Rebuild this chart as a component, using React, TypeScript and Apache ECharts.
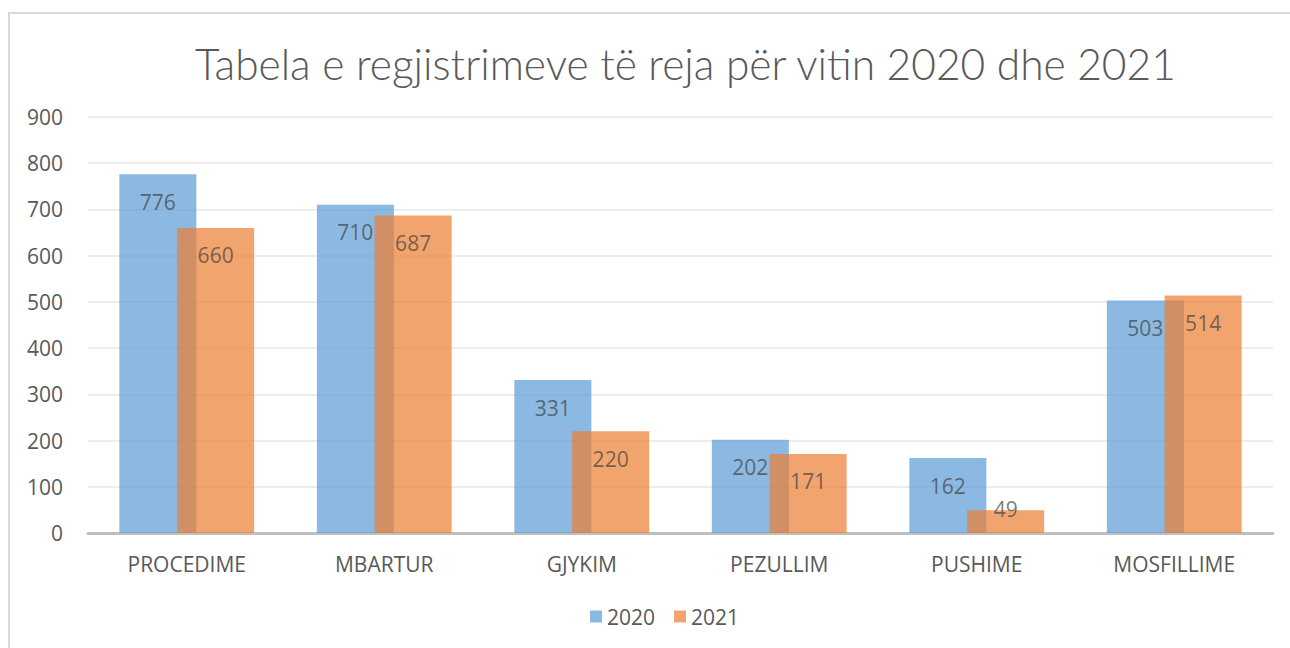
import React, { useEffect, useRef } from "react";
import * as echarts from "echarts";

const categories = ["PROCEDIME", "MBARTUR", "GJYKIM", "PEZULLIM", "PUSHIME", "MOSFILLIME"];
const values2020 = [776, 710, 331, 202, 162, 503];
const values2021 = [660, 687, 220, 171, 49, 514];
const seriesNames = ["2020", "2021"];
const titleText = "Tabela e regjistrimeve të reja për vitin 2020 dhe 2021";

const FONT = "'Open Sans', 'Noto Sans', sans-serif";
const TITLE_FONT = "Lato, 'Open Sans', sans-serif";

export default function App() {
  const ref = useRef<HTMLDivElement>(null);
  useEffect(() => {
    const chart = echarts.init(ref.current!, null, { renderer: "svg" });
    const label = {
      show: true,
      position: "insideTop" as const,
      distance: 17,
      color: "#404040",
      fontSize: 21,
      fontFamily: FONT,
    };
    const data21 = values2021.map((v) =>
      v < 80 ? { value: v, label: { position: "top", distance: -9 } } : v
    );
    chart.setOption({
      animation: false,
      backgroundColor: "#ffffff",
      title: {
        text: titleText,
        left: 190,
        top: 37,
        textStyle: { fontFamily: TITLE_FONT, fontWeight: 300, fontSize: 42.5, color: "#595959" },
      },
      legend: {
        bottom: 16,
        left: 585,
        itemWidth: 12,
        itemHeight: 12,
        itemGap: 19,
        itemStyle: { opacity: 0.7 },
        icon: "rect",
        textStyle: { fontFamily: FONT, fontSize: 21, color: "#595959" },
        data: seriesNames,
      },
      grid: { left: 88, right: 17, top: 117, bottom: 115 },
      xAxis: {
        type: "category",
        data: categories,
        axisLine: { lineStyle: { color: "#BFBFBF", width: 3 } },
        axisTick: { show: false },
        axisLabel: { color: "#595959", fontSize: 21, fontFamily: FONT, margin: 20 },
      },
      yAxis: {
        type: "value",
        min: 0,
        max: 900,
        interval: 100,
        axisLine: { show: false },
        axisTick: { show: false },
        axisLabel: { color: "#595959", fontSize: 21, fontFamily: FONT, margin: 25 },
        splitLine: { lineStyle: { color: "#EDEDED", width: 2 } },
      },
      series: [
        {
          name: seriesNames[0],
          type: "bar",
          data: values2020,
          barWidth: "39%",
          barGap: "-25%",
          itemStyle: { color: "#5B9BD5", opacity: 0.7 },
          label,
        },
        {
          name: seriesNames[1],
          type: "bar",
          data: data21,
          barWidth: "39%",
          itemStyle: { color: "#ED7D31", opacity: 0.7 },
          label,
        },
      ],
      graphic: [
        {
          type: "rect",
          shape: { x: 9, y: 13, width: 1300, height: 700 },
          style: { fill: "none", stroke: "#D9D9D9", lineWidth: 2 },
          silent: true,
        },
      ],
    });
    return () => chart.dispose();
  }, []);
  return (
    <div
      ref={ref}
      style={{ position: "fixed", left: 0, top: 0, width: 1290, height: 648, background: "#fff" }}
    />
  );
}
